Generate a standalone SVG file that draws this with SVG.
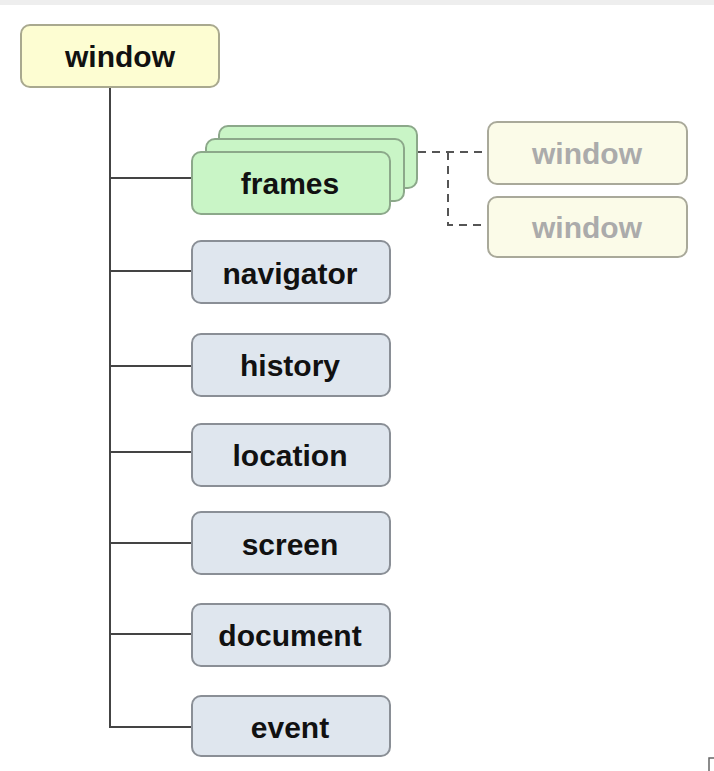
<svg xmlns="http://www.w3.org/2000/svg" width="714" height="771" viewBox="0 0 714 771">
<style>
.box{stroke:#8c8c8c;stroke-width:2}
.root{fill:#fdfdd2;stroke:#a9a98f}
.frame{fill:#c9f5c6;stroke:#8ca88a}
.obj{fill:#dfe6ee;stroke:#8a8f96}
.ghost{fill:#fbfbe8;stroke:#a9a99a}
.t{font-family:"Liberation Sans",Arial,sans-serif;font-weight:bold;font-size:30px;text-anchor:middle;fill:#111}
.tg{fill:#ababab}
.ln{fill:none;stroke:#444;stroke-width:2}
.dash{fill:none;stroke:#555;stroke-width:2;stroke-dasharray:8 6}
</style>
<rect width="714" height="771" fill="#ffffff"/>
<rect width="714" height="5" fill="#eeeeee"/>
<g id="connectors">
<path class="ln" d="M110 87 V727 H192"/>
<path class="ln" d="M110 178 H192"/>
<path class="ln" d="M110 271 H192"/>
<path class="ln" d="M110 366 H192"/>
<path class="ln" d="M110 452 H192"/>
<path class="ln" d="M110 543 H192"/>
<path class="ln" d="M110 634 H192"/>
<path class="dash" d="M418 152 H488"/>
<path class="dash" d="M448 152 V225 H488"/>
</g>
<g id="root-window">
<rect class="box root" x="21" y="25" width="198" height="62" rx="9"/>
<text class="t" x="120" y="67">window</text>
</g>
<g id="frames">
<rect class="box frame" x="219" y="126" width="198" height="62" rx="9"/>
<rect class="box frame" x="206" y="139" width="198" height="62" rx="9"/>
<rect class="box frame" x="192" y="152" width="198" height="62" rx="9"/>
<text class="t" x="290" y="194">frames</text>
</g>
<g id="window-1">
<rect class="box ghost" x="488" y="122" width="199" height="62" rx="9"/>
<text class="t tg" x="587" y="164">window</text>
</g>
<g id="window-2">
<rect class="box ghost" x="488" y="197" width="199" height="60" rx="9"/>
<text class="t tg" x="587" y="238">window</text>
</g>
<g id="navigator">
<rect class="box obj" x="192" y="241" width="198" height="62" rx="9"/>
<text class="t" x="290" y="284">navigator</text>
</g>
<g id="history">
<rect class="box obj" x="192" y="334" width="198" height="62" rx="9"/>
<text class="t" x="290" y="376">history</text>
</g>
<g id="location">
<rect class="box obj" x="192" y="424" width="198" height="62" rx="9"/>
<text class="t" x="290" y="466">location</text>
</g>
<g id="screen">
<rect class="box obj" x="192" y="512" width="198" height="62" rx="9"/>
<text class="t" x="290" y="555">screen</text>
</g>
<g id="document">
<rect class="box obj" x="192" y="604" width="198" height="62" rx="9"/>
<text class="t" x="290" y="646">document</text>
</g>
<g id="event">
<rect class="box obj" x="192" y="696" width="198" height="60" rx="9"/>
<text class="t" x="290" y="738">event</text>
</g>
<path d="M709 771 V758 H714" fill="none" stroke="#666" stroke-width="1.5"/>
</svg>
